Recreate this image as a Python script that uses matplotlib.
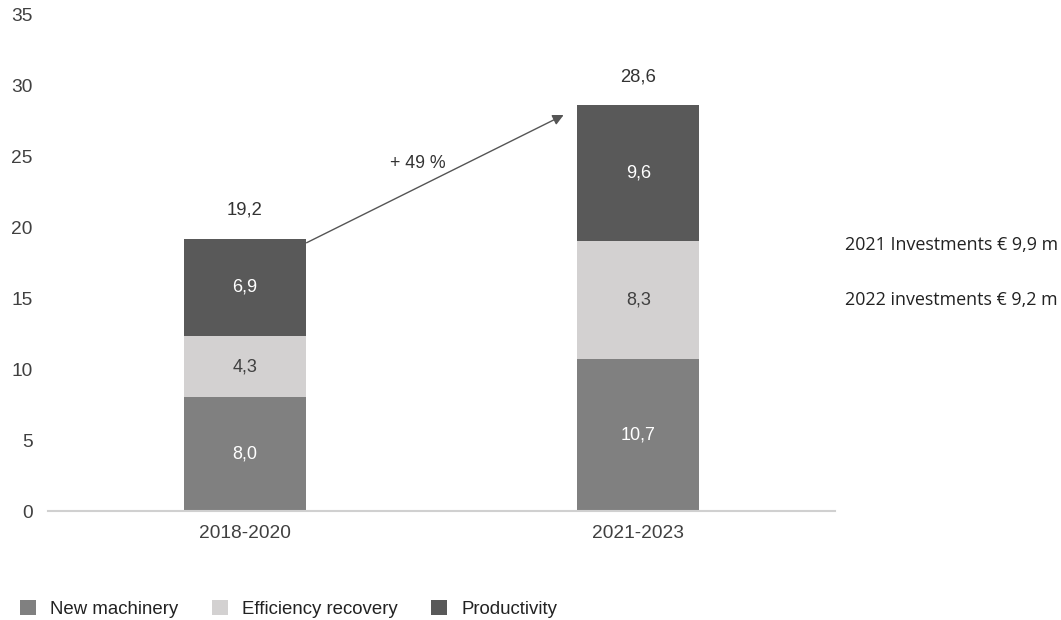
import matplotlib.pyplot as plt

periods = ["2018-2020", "2021-2023"]
new_machinery = [8.0, 10.7]
efficiency_recovery = [4.3, 8.3]
productivity = [6.9, 9.6]
totals = [19.2, 28.6]
growth_label = "+ 49 %"
notes = ["2021 Investments € 9,9 m", "2022 investments € 9,2 m"]

plt.rcParams['font.family'] = ['Liberation Sans', 'DejaVu Sans']

fig = plt.figure(figsize=(10.61, 6.2), dpi=100)
ax = fig.add_axes([0.0452, 0.1758, 0.742, 0.8012])

x = range(len(periods))
w = 0.31
series = [
    ("New machinery", new_machinery, "#808080", "white"),
    ("Efficiency recovery", efficiency_recovery, "#d3d1d1", "#404040"),
    ("Productivity", productivity, "#595959", "white"),
]
bottom = [0, 0]
for name, vals, col, tcol in series:
    ax.bar(x, vals, w, bottom=bottom, color=col, label=name, zorder=2)
    for i, v in enumerate(vals):
        ax.text(i, bottom[i] + v / 2, f"{v:.1f}".replace(".", ","),
                ha="center", va="center", color=tcol, fontsize=13, zorder=3)
    bottom = [b + v for b, v in zip(bottom, vals)]

for i, t in enumerate(totals):
    ax.text(i, t + 2.0, f"{t:.1f}".replace(".", ","), ha="center", va="center",
            color="#333333", fontsize=13.3)

# growth arrow between the two stacks
ax.annotate("", xy=(0.81, 27.9), xytext=(0.157, 18.9),
            arrowprops=dict(arrowstyle="-|>", color="#555555", lw=1,
                            mutation_scale=16, shrinkA=0, shrinkB=0), zorder=4)
ax.text(0.44, 24.5, growth_label, ha="center", va="center", color="#333333", fontsize=12.8)

ax.set_xlim(-0.5, 1.5)
ax.set_ylim(0, 35)
ax.set_yticks(range(0, 36, 5))
ax.set_xticks(list(x))
ax.set_xticklabels(periods)
ax.tick_params(length=0, labelsize=13.8, colors="#404040")
ax.tick_params(axis="y", pad=11)
ax.tick_params(axis="x", pad=10)
for s in ["top", "right", "left"]:
    ax.spines[s].set_visible(False)
ax.spines["bottom"].set_color("#d0d0d0")
ax.spines["bottom"].set_linewidth(1.5)

for j, note in enumerate(notes):
    fig.text(0.796, 1 - (245 + 55 * j) / 620, note, ha="left", va="center",
             fontsize=12.9, color="#222222", family=["Open Sans", "DejaVu Sans"])

fig.legend(loc="lower left", bbox_to_anchor=(0.0035, -0.024), ncol=3, frameon=False,
           fontsize=13.4, handlelength=0.86, handleheight=0.86, columnspacing=1.8,
           handletextpad=0.75, labelcolor="#222222")

fig.savefig("out.png", dpi=100)
